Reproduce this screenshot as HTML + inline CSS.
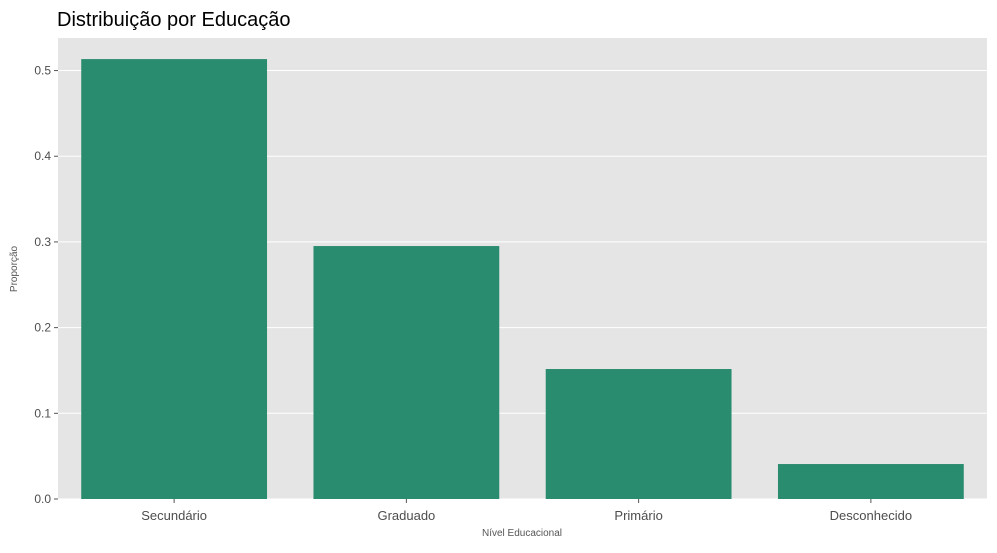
<!DOCTYPE html>
<html><head><meta charset="utf-8"><style>
body{margin:0;background:#fff;}
svg text{font-family:"Liberation Sans","DejaVu Sans",sans-serif;}
</style></head><body>
<svg id="chart" width="997" height="548" xmlns="http://www.w3.org/2000/svg">
<text x="57" y="26" font-size="20" fill="#000">Distribuição por Educação</text>
<rect x="58" y="38" width="929" height="461" fill="#e5e5e5"/>
<g id="grid"></g><g id="bars"></g><g id="yaxis"></g><g id="xaxis"></g>
<text x="522" y="536" font-size="10" fill="#555" text-anchor="middle">Nível Educacional</text>
<text transform="translate(17,269) rotate(-90)" font-size="10" fill="#555" text-anchor="middle">Proporção</text>
</svg>
<script>
const categories=["Secundário","Graduado","Primário","Desconhecido"];
const values=[0.5134,0.2952,0.1517,0.0408];
const yTicks=[0,0.1,0.2,0.3,0.4,0.5];
const yTickLabels=["0.0","0.1","0.2","0.3","0.4","0.5"];
const NS="http://www.w3.org/2000/svg";
const L=58,R=987,T=38,B=499,yMax=0.538;
const y=v=>B-(v/yMax)*(B-T);
const band=(R-L)/categories.length;
const x=i=>L+band*i;
function mk(tag,attrs,parent){const e=document.createElementNS(NS,tag);for(const k in attrs)e.setAttribute(k,attrs[k]);parent.appendChild(e);return e;}
const g=document.getElementById('grid'),b=document.getElementById('bars'),ya=document.getElementById('yaxis'),xa=document.getElementById('xaxis');
yTicks.forEach((t,i)=>{
 const ln=mk('line',{x1:L,x2:R,y1:y(t),y2:y(t),stroke:'#fff','stroke-width':1},g);
 
 
 const tk=mk('line',{x1:L-4,x2:L,y1:y(t),y2:y(t),stroke:'#555'},ya);
 
 
 const tx=mk('text',{x:L-7,y:y(t)+4,'font-size':12,fill:'#4d4d4d','text-anchor':'end'},ya);
 tx.textContent=yTickLabels[i];
 
 
});
categories.forEach((c,i)=>{
 const w=band*0.8;
 const r=mk('rect',{x:x(i)+band*0.1,y:y(values[i]),width:w,height:B-y(values[i]),fill:'#2a8c6f'},b);
 
 
 const cx=x(i)+band/2;
 const tk=mk('line',{x1:cx,x2:cx,y1:B,y2:B+4,stroke:'#555'},xa);
 
 
 const tx=mk('text',{x:cx,y:B+21,'font-size':13,fill:'#4d4d4d','text-anchor':'middle'},xa);
 tx.textContent=c;
 
 
});
</script>
</body></html>
